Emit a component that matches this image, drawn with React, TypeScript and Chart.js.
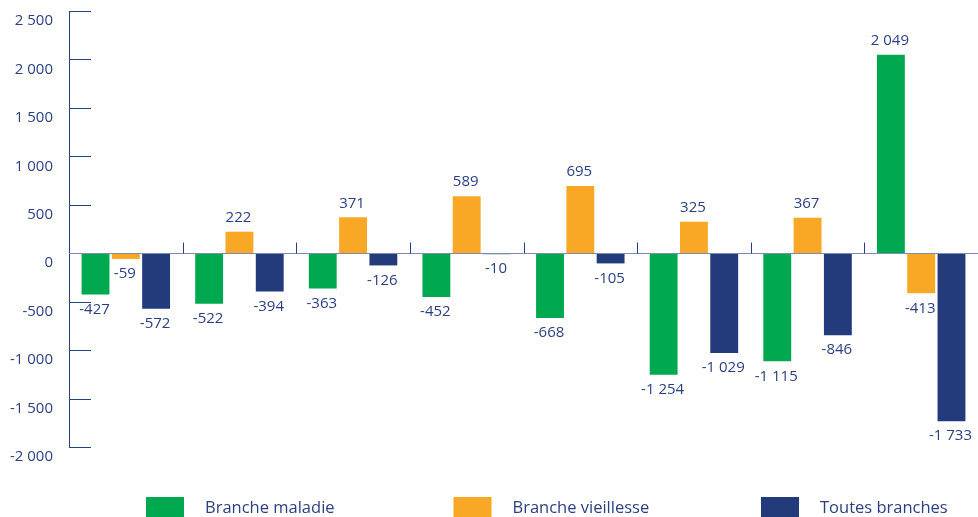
import React, { useEffect, useRef } from "react";
import { Chart, registerables } from "chart.js";

Chart.register(...registerables);

const categories = ["1", "2", "3", "4", "5", "6", "7", "8"];
const seriesNames = ["Branche maladie", "Branche vieillesse", "Toutes branches"];
const maladie = [-427, -522, -363, -452, -668, -1254, -1115, 2049];
const vieillesse = [-59, 222, 371, 589, 695, 325, 367, -413];
const toutes = [-572, -394, -126, -10, -105, -1029, -846, -1733];
const yTicks = [-2000, -1500, -1000, -500, 0, 500, 1000, 1500, 2000, 2500];

const GREEN = "#00a94f";
const ORANGE = "#f9a825";
const NAVY = "#233a7b";
const TEXT = "#2b3f80";
const FONT = "'Open Sans', sans-serif";

function fmt(v: number): string {
  const s = Math.abs(Math.round(v)).toString().replace(/\B(?=(\d{3})+(?!\d))/g, " ");
  return (v < 0 ? "-" : "") + s;
}

const decorPlugin = {
  id: "decor",
  afterDatasetsDraw(chart: any) {
    const { ctx, chartArea, scales } = chart;
    const y = scales.y;
    const x = scales.x;
    ctx.save();
    ctx.strokeStyle = TEXT;
    ctx.lineWidth = 1;
    const top = y.getPixelForValue(yTicks[yTicks.length - 1]);
    const bot = y.getPixelForValue(yTicks[0]);
    ctx.beginPath();
    ctx.moveTo(chartArea.left + 0.5, top);
    ctx.lineTo(chartArea.left + 0.5, bot);
    ctx.stroke();
    yTicks.forEach((t) => {
      const py = Math.round(y.getPixelForValue(t)) + 0.5;
      ctx.beginPath();
      ctx.moveTo(chartArea.left, py);
      ctx.lineTo(chartArea.left + 22, py);
      ctx.stroke();
    });
    const zy = Math.round(y.getPixelForValue(0)) + 0.5;
    ctx.strokeStyle = "#7f8bb3";
    ctx.beginPath();
    ctx.moveTo(chartArea.left, zy);
    ctx.lineTo(chart.width, zy);
    ctx.stroke();
    ctx.strokeStyle = TEXT;
    for (let i = 0; i < categories.length - 1; i++) {
      const px = Math.round((x.getPixelForValue(i) + x.getPixelForValue(i + 1)) / 2) + 0.5;
      ctx.beginPath();
      ctx.moveTo(px, zy - 11);
      ctx.lineTo(px, zy);
      ctx.stroke();
    }
    ctx.fillStyle = TEXT;
    ctx.font = `15px ${FONT}`;
    ctx.textAlign = "center";
    ctx.textBaseline = "middle";
    chart.data.datasets.forEach((ds: any, di: number) => {
      const meta = chart.getDatasetMeta(di);
      meta.data.forEach((el: any, i: number) => {
        const v = ds.data[i];
        const ty = v >= 0 ? el.y - 14 : el.y + 15;
        ctx.fillText(fmt(v), el.x - 1, ty);
      });
    });
    const slot = 307.5;
    const start = 146;
    const boxTop = chart.height - 20;
    chart.data.datasets.forEach((ds: any, di: number) => {
      const lx = start + di * slot;
      ctx.fillStyle = ds.backgroundColor;
      ctx.fillRect(lx, boxTop, 38, 20);
      ctx.fillStyle = TEXT;
      ctx.font = `16.5px ${FONT}`;
      ctx.textAlign = "left";
      ctx.textBaseline = "middle";
      ctx.fillText(ds.label, lx + 59, boxTop + 11);
    });
    ctx.restore();
  },
};

export default function App() {
  const ref = useRef<HTMLCanvasElement>(null);
  useEffect(() => {
    if (!ref.current) return;
    const chart = new Chart(ref.current, {
      type: "bar",
      data: {
        labels: categories,
        datasets: [
          { label: seriesNames[0], data: maladie, backgroundColor: GREEN },
          { label: seriesNames[1], data: vieillesse, backgroundColor: ORANGE },
          { label: seriesNames[2], data: toutes, backgroundColor: NAVY },
        ],
      },
      options: {
        responsive: false,
        animation: false,
        layout: { padding: { top: 11, bottom: 70, right: 0, left: 0 } },
        datasets: { bar: { categoryPercentage: 0.8, barPercentage: 0.92 } },
        plugins: { legend: { display: false }, tooltip: { enabled: false } },
        scales: {
          x: { display: false, offset: true },
          y: {
            min: -2000,
            max: 2500,
            afterFit: (s: any) => {
              s.width = 69;
              s.paddingTop = 0;
              s.paddingBottom = 0;
            },
            afterBuildTicks: (s: any) => {
              s.ticks = yTicks.map((v) => ({ value: v }));
            },
            grid: { display: false, drawTicks: false },
            border: { display: false },
            ticks: {
              padding: 16,
              labelOffset: 10,
              color: TEXT,
              font: { family: FONT, size: 15 },
              callback: (v: any) => fmt(Number(v)),
            },
          },
        },
      },
      plugins: [decorPlugin],
    });
    return () => chart.destroy();
  }, []);
  return (
    <div style={{ position: "fixed", left: 0, top: 0, width: 978, height: 517, background: "#fff" }}>
      <canvas ref={ref} width={978} height={517} />
    </div>
  );
}
